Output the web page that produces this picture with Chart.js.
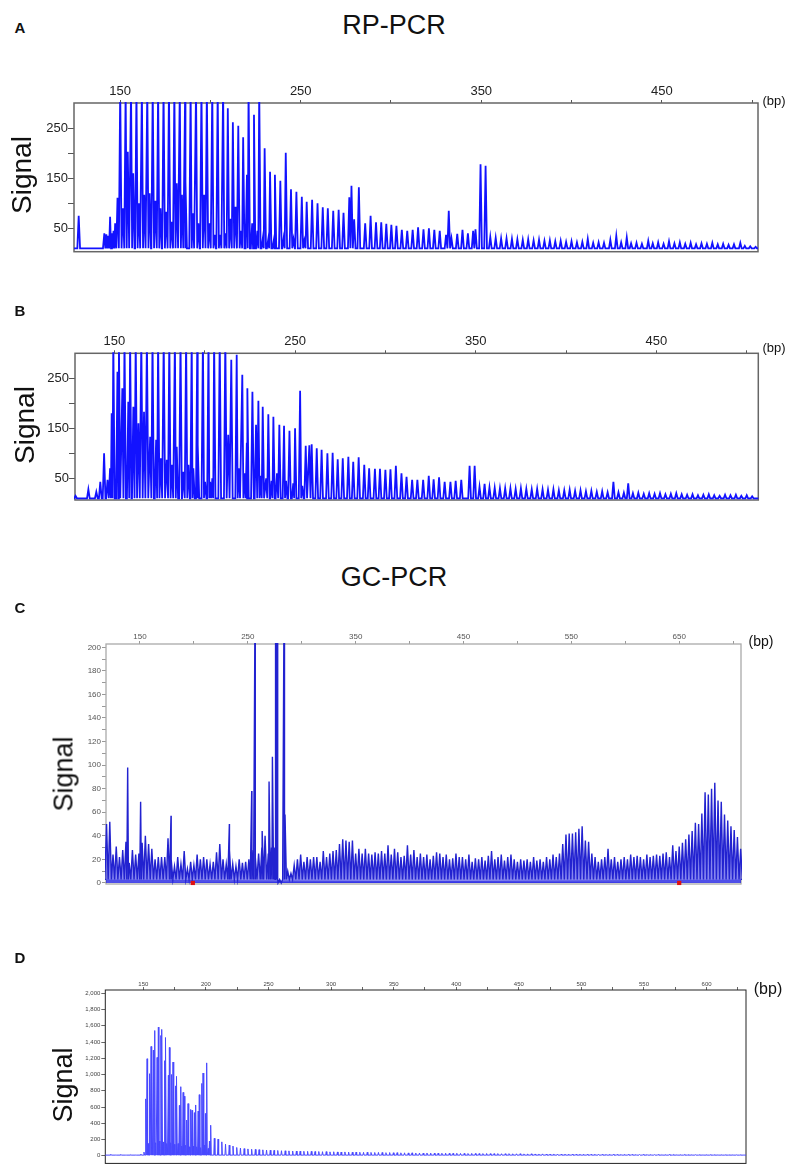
<!DOCTYPE html>
<html>
<head>
<meta charset="utf-8">
<script src="https://cdn.jsdelivr.net/npm/chart.js@4.4.1/dist/chart.umd.min.js"></script>
<style>
  html, body { margin: 0; padding: 0; background: #fff; }
  #page { position: relative; width: 788px; height: 1168px; overflow: hidden; font-family: "Liberation Sans", Arial, Helvetica, sans-serif; color: #111; }
  canvas { position: absolute; left: 0; }
  .txt { position: absolute; white-space: nowrap; transform: translate(-50%, -50%); line-height: 1; }
  .rot { transform: translate(-50%, -50%) rotate(-90deg); }
  .letter { font-weight: bold; font-size: 15px; }
</style>
</head>
<body>
<div id="page">
  <canvas id="chartA" width="788" height="200" style="top:60px"></canvas>
  <canvas id="chartB" width="788" height="200" style="top:310px"></canvas>
  <canvas id="chartC" width="788" height="300" style="top:600px"></canvas>
  <canvas id="chartD" width="788" height="218" style="top:950px"></canvas>

  <div class="txt letter" style="left:20px;top:27px">A</div>
  <div class="txt" style="left:394px;top:25px;font-size:27px">RP-PCR</div>
  <div class="txt" style="left:774px;top:100px;font-size:13px">(bp)</div>
  <div class="txt rot" style="left:22px;top:175px;font-size:28px">Signal</div>

  <div class="txt letter" style="left:20px;top:310px">B</div>
  <div class="txt" style="left:774px;top:347px;font-size:13px">(bp)</div>
  <div class="txt rot" style="left:25px;top:425px;font-size:28px">Signal</div>

  <div class="txt" style="left:394px;top:577px;font-size:27px">GC-PCR</div>
  <div class="txt letter" style="left:20px;top:607px">C</div>
  <div class="txt" style="left:761px;top:641px;font-size:14px">(bp)</div>
  <div class="txt rot" style="left:64px;top:774px;font-size:27px">Signal</div>

  <div class="txt letter" style="left:20px;top:957px">D</div>
  <div class="txt" style="left:768px;top:989px;font-size:16px">(bp)</div>
  <div class="txt rot" style="left:63px;top:1085px;font-size:27px">Signal</div>
</div>

<script>
// ── Tick values / labels ─────────────────────────────────────
const AB_xTicks  = [150, 200, 250, 300, 350, 400, 450, 500];
const AB_xLabels = [150, 250, 350, 450];
const AB_yTicks  = [50, 100, 150, 200, 250];
const AB_yLabels = [50, 150, 250];

const C_xTicks  = [150, 200, 250, 300, 350, 400, 450, 500, 550, 600, 650, 700];
const C_xLabels = [150, 250, 350, 450, 550, 650];
const C_yTicks  = [0, 10, 20, 30, 40, 50, 60, 70, 80, 90, 100, 110, 120, 130, 140, 150, 160, 170, 180, 190, 200];
const C_yLabels = [0, 20, 40, 60, 80, 100, 120, 140, 160, 180, 200];

const D_xTicks  = [150, 175, 200, 225, 250, 275, 300, 325, 350, 375, 400, 425, 450, 475, 500, 525, 550, 575, 600, 625];
const D_xLabels = [150, 200, 250, 300, 350, 400, 450, 500, 550, 600];
const D_yTicks  = [0, 200, 400, 600, 800, 1000, 1200, 1400, 1600, 1800, 2000];

// ── Panel A (RP-PCR) peaks: [bp, signal] ─────────────────────
const A_main = [
  [127, 75], [141.2, 40], [142.3, 38], [143.3, 35], [144.4, 73], [145.4, 40], [146.3, 45], [147.2, 60], [148.5, 111],
  [150, 330], [153, 330], [156, 330], [159, 330], [162, 330], [165, 330], [168, 330], [171, 330], [174, 330], [177, 330],
  [180, 330], [183, 330], [186, 330], [189, 330], [192, 330], [195, 330], [198, 330], [201, 330], [204, 330], [207, 330],
  [209.6, 290], [212.4, 262], [215.4, 255], [218.1, 232], [221.1, 330], [224.1, 277], [227, 330], [230, 210], [233, 163], [235.7, 157],
  [238.7, 145], [241.7, 201], [244.6, 128], [247.6, 123], [250.6, 113], [253.3, 103], [256.3, 107], [259.3, 100], [262.2, 92], [265, 90],
  [268, 85], [271, 87], [273.7, 81], [276.9, 112], [278.1, 135], [279.6, 68], [282.2, 132], [285.7, 60], [288.7, 75], [291.7, 62], [294.6, 62]
];
const A_minor = [
  [151.5, 90], [154.2, 203], [157.2, 160], [160.3, 100], [163.3, 117], [166.3, 120], [169.5, 105], [172.3, 90], [175.5, 83],
  [178.5, 63], [181.3, 140], [184.2, 117], [186.2, 143], [190.2, 80], [193.3, 60], [196.5, 117], [199.4, 60], [202.3, 37],
  [205.3, 37], [208.3, 40], [211.2, 69], [213.9, 93], [217, 45], [220.2, 157], [223.1, 60], [226, 45], [229, 30], [232, 28],
  [235, 25], [240.5, 30], [246, 28], [252, 25]
];
const A_tail = [
  [297.4, 59], [300.2, 57], [303, 55], [306, 47], [309, 45], [312, 47], [315, 52], [318, 48], [321, 50], [324, 47],
  [327, 45], [330.5, 37], [332, 85], [333.5, 30], [336.7, 39], [339.6, 47], [342.6, 40], [345.5, 45], [346.8, 48], [349.6, 178],
  [352.4, 175], [355, 33], [358, 31], [361, 30], [364, 30], [367, 29], [370, 28], [373, 27], [376, 28], [379, 26],
  [382, 27], [385, 25], [388, 26], [391, 24], [394, 25], [397, 23], [400, 24], [403, 22], [406, 23], [409, 29],
  [412, 21], [415, 22], [418, 21], [421.5, 27], [424.8, 35], [427.5, 22], [430.6, 32], [433, 20], [436, 21], [439, 19],
  [442.5, 25], [445, 20], [448, 22], [451, 19], [454, 24], [457, 20], [460, 22], [463, 19], [466, 21], [469, 18],
  [472, 20], [475, 19], [478, 21], [481, 18], [484, 19], [487, 17], [490, 18], [493.5, 21], [496, 15], [499, 14], [502, 13]
];

// ── Panel B (RP-PCR) peaks ───────────────────────────────────
const B_main = [
  [128.5, 15], [135.6, 28], [140, 23], [142.2, 43], [144.3, 100], [146.2, 47], [147.6, 70], [148.5, 180],
  [149.4, 330], [152.5, 330], [155.6, 330], [158.7, 330], [161.8, 330], [164.9, 330], [168, 330], [171.1, 330], [174.2, 330], [177.3, 330],
  [180.4, 330], [183.5, 330], [186.6, 330], [189.7, 330], [192.8, 330], [195.9, 330], [199, 330], [202.1, 330], [205.2, 330], [208.3, 330], [211.4, 330],
  [214.7, 287], [217.7, 297], [220.8, 257], [223.6, 230], [226.4, 223], [229.7, 205], [232.1, 193], [235.2, 178], [238, 173], [241.3, 157],
  [243.9, 155], [246.9, 145], [250, 150], [252.8, 225], [255.9, 115], [257.9, 116], [259.2, 118], [262, 110], [264.7, 107], [267.9, 100],
  [270.8, 101], [273.6, 88], [276.4, 90], [279.5, 93], [282.2, 83], [285.2, 92], [288.3, 77], [291, 70], [294.2, 69], [297, 69],
  [300, 67], [302.8, 68], [305.8, 75], [308.9, 60], [311.7, 53], [314.8, 47], [317.7, 47], [320.9, 47], [324, 55], [326.7, 48],
  [329.7, 52], [332.8, 43], [336, 43], [338.9, 45], [342, 47], [346.6, 75], [349.4, 75], [352.1, 33], [354.9, 39]
];
const B_minor = [
  [151.7, 263], [154.4, 230], [157.7, 203], [160.5, 193], [163.3, 160], [166.4, 183], [169.8, 133], [173.1, 127], [175.7, 90],
  [179, 87], [181.8, 77], [184.5, 113], [188.2, 63], [191, 77], [193.7, 70], [196.2, 117], [200.2, 43], [203, 43], [204.2, 50],
  [213, 137], [218.8, 70], [222, 60], [223.3, 121], [228.4, 157], [231, 55], [234, 50], [237, 45], [240, 60], [245, 45], [249, 40], [254, 35]
];
const B_tail = [
  [357.6, 32], [360.5, 31], [363.4, 30], [366.3, 30], [369.2, 30], [372.1, 29], [375, 30], [378, 29], [381, 28], [384, 29],
  [387, 28], [390, 27], [393, 28], [396, 26], [399, 26], [402, 27], [405, 25], [408, 26], [411, 24], [414, 25],
  [417, 23], [420, 24], [423, 22], [426.2, 43], [429, 22], [432, 21], [434.4, 40], [437, 20], [440, 21], [443, 19],
  [446, 20], [449, 19], [452, 20], [455, 18], [458, 19], [461, 20], [464, 18], [467, 17], [470, 18], [473, 16],
  [476, 17], [479, 18], [482, 16], [485, 15], [488, 17], [491, 16], [494, 17], [497, 15], [500, 16], [503, 14]
];

// ── Panel C (GC-PCR) peak tops every 3 bp from 119 bp, plus spikes ──
const C_start = 119;
const C_step  = 3;
const C_grid = [
  50, 52, 24, 31, 22, 28, 35,
  17, 28, 24, 25, 34, 40, 33, 29, 20, 22, 22,
  22, 38, 20, 14, 22, 16, 27, 12, 18, 15,
  24, 20, 22, 20, 16, 18, 26, 33, 20, 16,
  28, 16, 14, 20, 17, 18, 20,
  28, 22, 25, 30, 40, 25, 30, 30, 0, 0,
  12, 10, 8, 15, 20, 24, 18, 22, 20, 22,
  22, 18, 27, 22, 25, 27, 28, 33, 37, 36,
  35, 36, 25, 29, 25, 29, 25, 24, 26, 25,
  27, 25, 32, 24, 29, 26, 22, 23, 32, 24,
  28, 22, 25, 22, 24, 20, 23, 26, 25, 22,
  24, 20, 21, 25, 22, 22, 20, 24, 18, 21,
  20, 22, 19, 23, 27, 20, 22, 24, 19, 22,
  24, 20, 18, 20, 19, 20, 18, 22, 19, 20,
  18, 22, 20, 24, 22, 25, 33, 41, 42, 42,
  43, 46, 48, 36, 35, 25, 22, 18, 20, 22,
  29, 20, 22, 18, 20, 22, 20, 24, 22, 23,
  22, 20, 24, 22, 23, 24, 23, 25, 26, 22,
  32, 27, 31, 34, 37, 41, 44, 51, 50, 59,
  77, 75, 80, 85, 70, 69, 58, 53, 48, 45,
  39, 29
];
const C_spikes = [
  [138.6, 98], [150.6, 69], [178.8, 57], [232.9, 50], [253.6, 78], [256.7, 240], [263.3, 44],
  [269.7, 86], [272.8, 107], [275.5, 240], [276.4, 240], [277.4, 240], [283.6, 240], [284.5, 58]
];
const C_markers = [199, 650];

// ── Panel D (GC-PCR) peaks ───────────────────────────────────
const D_pre = [[124, 18], [128, 10], [132, 16], [136, 8], [140, 14], [144, 10], [148, 20], [150.5, 45]];
const D_main = [
  [153, 1194], [156.2, 1345], [159.1, 1541], [162, 1583], [164.9, 1555], [167.9, 1455], [170.8, 1333], [173.7, 1153],
  [176.7, 977], [179.9, 850], [182.7, 733], [185.7, 642], [188.9, 560], [191.8, 625], [194.7, 752], [197.7, 1018],
  [200.6, 1143], [203.8, 376], [206.7, 215]
];
const D_shoulder = [
  [151.9, 700], [155, 1010], [158, 1300], [161, 1210], [164, 1480], [167, 1170], [170, 990], [172.8, 1000], [175.7, 860],
  [178.8, 620], [181.8, 780], [184.8, 440], [187.8, 570], [190.8, 530], [193.8, 550], [196.7, 890], [199.6, 520], [202.8, 180]
];
const D_bump = [
  [153.8, 150], [156.8, 170], [159.8, 160], [162.8, 180], [165.8, 170], [168.8, 150], [171.8, 160], [174.8, 140],
  [177.8, 150], [180.8, 120], [183.8, 130], [186.8, 110], [189.8, 120], [192.8, 110], [195.8, 100], [198.8, 130], [201.8, 90]
];
const D_tailStart = 209.7;
const D_tailStep  = 2.98;
const D_tail = [
  205, 171, 143, 131, 119, 102, 94, 88, 84, 80,
  78, 75, 73, 70, 68, 66, 65, 62, 61, 60,
  58, 58, 56, 55, 54, 54, 52, 52, 50, 51,
  48, 49, 47, 46, 47, 45, 44, 45, 43, 42,
  43, 41, 40, 41, 40, 38, 39, 37, 38, 36,
  36, 35, 36, 34, 34, 33, 34, 33, 32, 32,
  31, 32, 30, 30, 31, 29, 29, 28, 29, 28,
  27, 27, 28, 26, 26, 27, 25, 25, 26, 24,
  24, 25, 23, 23, 24, 22, 22, 23, 21, 21,
  22, 20, 20, 21, 20, 19, 19, 20, 19, 18,
  18, 19, 18, 17, 17, 18, 17, 16, 16, 17,
  16, 16, 15, 15, 16, 15, 15, 14, 15, 14,
  14, 15, 14, 13, 13, 14, 13, 13, 13, 12,
  12, 13, 12, 12, 12, 12, 11, 11, 12, 11,
  11, 11
];

// ── Helpers ──────────────────────────────────────────────────
const FONT = '"Liberation Sans", Arial, Helvetica, sans-serif';

// Turn a list of peaks into a line trace that returns to baseline between peaks
function buildTrace(peaks, base, hw, xmin, xmax) {
  const pk = peaks.slice().sort((a, b) => a[0] - b[0]);
  const pts = [{ x: xmin, y: base }];
  pk.forEach(([c, h], i) => {
    const prev = i ? pk[i - 1][0] : xmin - 10;
    const next = i < pk.length - 1 ? pk[i + 1][0] : xmax + 10;
    if (c - prev > 2 * hw) pts.push({ x: c - hw, y: base });
    pts.push({ x: c, y: h });
    if (next - c > 2 * hw) pts.push({ x: c + hw, y: base });
    else pts.push({ x: (c + next) / 2, y: base });
  });
  pts.push({ x: xmax, y: base });
  return pts;
}

const framePlugin = {
  id: 'frame',
  beforeDatasetsDraw(chart, args, opts) {
    const { left, top, right, bottom } = chart.chartArea;
    const ctx = chart.ctx;
    ctx.save();
    ctx.strokeStyle = opts.color;
    ctx.lineWidth = opts.width;
    ctx.strokeRect(left, top, right - left, bottom - top);
    ctx.restore();
  }
};

function makePanel(p) {
  const pad = {
    left: 0,
    right: 788 - p.area.r,
    top: p.area.t - p.top - p.xH,
    bottom: p.top + p.height - p.area.b
  };
  return new Chart(document.getElementById(p.id), {
    type: 'line',
    data: { datasets: p.datasets },
    options: {
      responsive: false,
      animation: false,
      events: [],
      layout: { padding: pad },
      plugins: {
        legend: { display: false },
        tooltip: { enabled: false },
        frame: { color: p.frame, width: p.frameW }
      },
      scales: {
        x: {
          type: 'linear', position: 'top', min: p.xMin, max: p.xMax,
          afterBuildTicks: s => { s.ticks = p.xTicks.map(v => ({ value: v })); },
          afterFit: s => { s.height = p.xH; },
          border: { display: false },
          grid: { drawOnChartArea: false, tickLength: p.xTickLen, color: p.tickColor, lineWidth: 1 },
          ticks: {
            autoSkip: false, maxRotation: 0, padding: p.xPad,
            font: { family: FONT, size: p.xFont }, color: p.labelColor,
            callback: v => p.xLabels.includes(v) ? String(v) : ''
          }
        },
        y: {
          type: 'linear', position: 'left', min: p.yMin, max: p.yMax,
          afterBuildTicks: s => { s.ticks = p.yTicks.map(v => ({ value: v })); },
          afterFit: s => { s.width = p.area.l; },
          border: { display: false },
          grid: { drawOnChartArea: false, tickLength: p.yTickLen, color: p.tickColor, lineWidth: 1 },
          ticks: {
            autoSkip: false, padding: p.yPad,
            font: { family: FONT, size: p.yFont }, color: p.labelColor,
            callback: v => p.yLabels.includes(v) ? v.toLocaleString('en-US') : ''
          }
        }
      }
    },
    plugins: [framePlugin]
  });
}

function traceSet(data, color, width, fill) {
  return {
    data, borderColor: color, borderWidth: width, pointRadius: 0, tension: 0, clip: 1,
    fill: fill ? 'origin' : false, backgroundColor: fill || 'transparent'
  };
}

// ── Panels ───────────────────────────────────────────────────
makePanel({
  id: 'chartA', top: 60, height: 200, xH: 30,
  area: { l: 74, t: 103, r: 758, b: 251.7 },
  xMin: 124.4, xMax: 503.3, yMin: 3.3, yMax: 300.6,
  xTicks: AB_xTicks, xLabels: AB_xLabels, yTicks: AB_yTicks, yLabels: AB_yLabels,
  xTickLen: 3, xPad: 1, yTickLen: 6, yPad: 0, xFont: 13, yFont: 13,
  tickColor: '#555', labelColor: '#222', frame: '#666', frameW: 1.5,
  datasets: [traceSet(buildTrace(A_main.concat(A_minor, A_tail), 10, 0.75, 124.4, 503.3), '#1212ff', 1.8)]
});

makePanel({
  id: 'chartB', top: 310, height: 200, xH: 30,
  area: { l: 75, t: 353.3, r: 758.3, b: 500 },
  xMin: 128.2, xMax: 506.4, yMin: 6.6, yMax: 300,
  xTicks: AB_xTicks, xLabels: AB_xLabels, yTicks: AB_yTicks, yLabels: AB_yLabels,
  xTickLen: 3, xPad: 1, yTickLen: 6, yPad: 0, xFont: 13, yFont: 13,
  tickColor: '#555', labelColor: '#222', frame: '#666', frameW: 1.5,
  datasets: [traceSet(buildTrace(B_main.concat(B_minor, B_tail), 10, 0.75, 128.2, 506.4), '#1212ff', 1.8)]
});

const C_peaks = C_grid.map((h, i) => [C_start + i * C_step, h]).concat(C_spikes);
makePanel({
  id: 'chartC', top: 600, height: 300, xH: 20,
  area: { l: 106, t: 644, r: 741, b: 884 },
  xMin: 118.5, xMax: 707.3, yMin: -0.9, yMax: 202.8,
  xTicks: C_xTicks, xLabels: C_xLabels, yTicks: C_yTicks, yLabels: C_yLabels,
  xTickLen: 3, xPad: -1, yTickLen: 4, yPad: 1, xFont: 8, yFont: 8,
  tickColor: '#999', labelColor: '#555', frame: '#aaa', frameW: 1.3,
  datasets: [
    traceSet(buildTrace(C_peaks, 3, 1.5, 118.5, 707.3), '#2222d0', 1.4, 'rgba(35,35,225,0.55)'),
    {
      type: 'scatter', order: -1, data: C_markers.map(v => ({ x: v, y: 0 })),
      pointStyle: 'rect', pointRadius: 3, backgroundColor: '#e01010', borderWidth: 0, clip: false
    }
  ]
});

const D_tailPeaks = D_tail.map((h, i) => [D_tailStart + i * D_tailStep, h]);
makePanel({
  id: 'chartD', top: 950, height: 218, xH: 20,
  area: { l: 105.3, t: 990, r: 746, b: 1165 },
  xMin: 119.6, xMax: 631.5, yMin: -94, yMax: 2040,
  xTicks: D_xTicks, xLabels: D_xLabels, yTicks: D_yTicks, yLabels: D_yTicks,
  xTickLen: 3, xPad: -1, yTickLen: 4, yPad: 1, xFont: 6, yFont: 6,
  tickColor: '#666', labelColor: '#444', frame: '#222', frameW: 1,
  datasets: [traceSet(buildTrace(D_pre.concat(D_main, D_shoulder, D_bump, D_tailPeaks), 8, 0.45, 119.6, 631.5), '#4848ff', 1)]
});
</script>
</body>
</html>
